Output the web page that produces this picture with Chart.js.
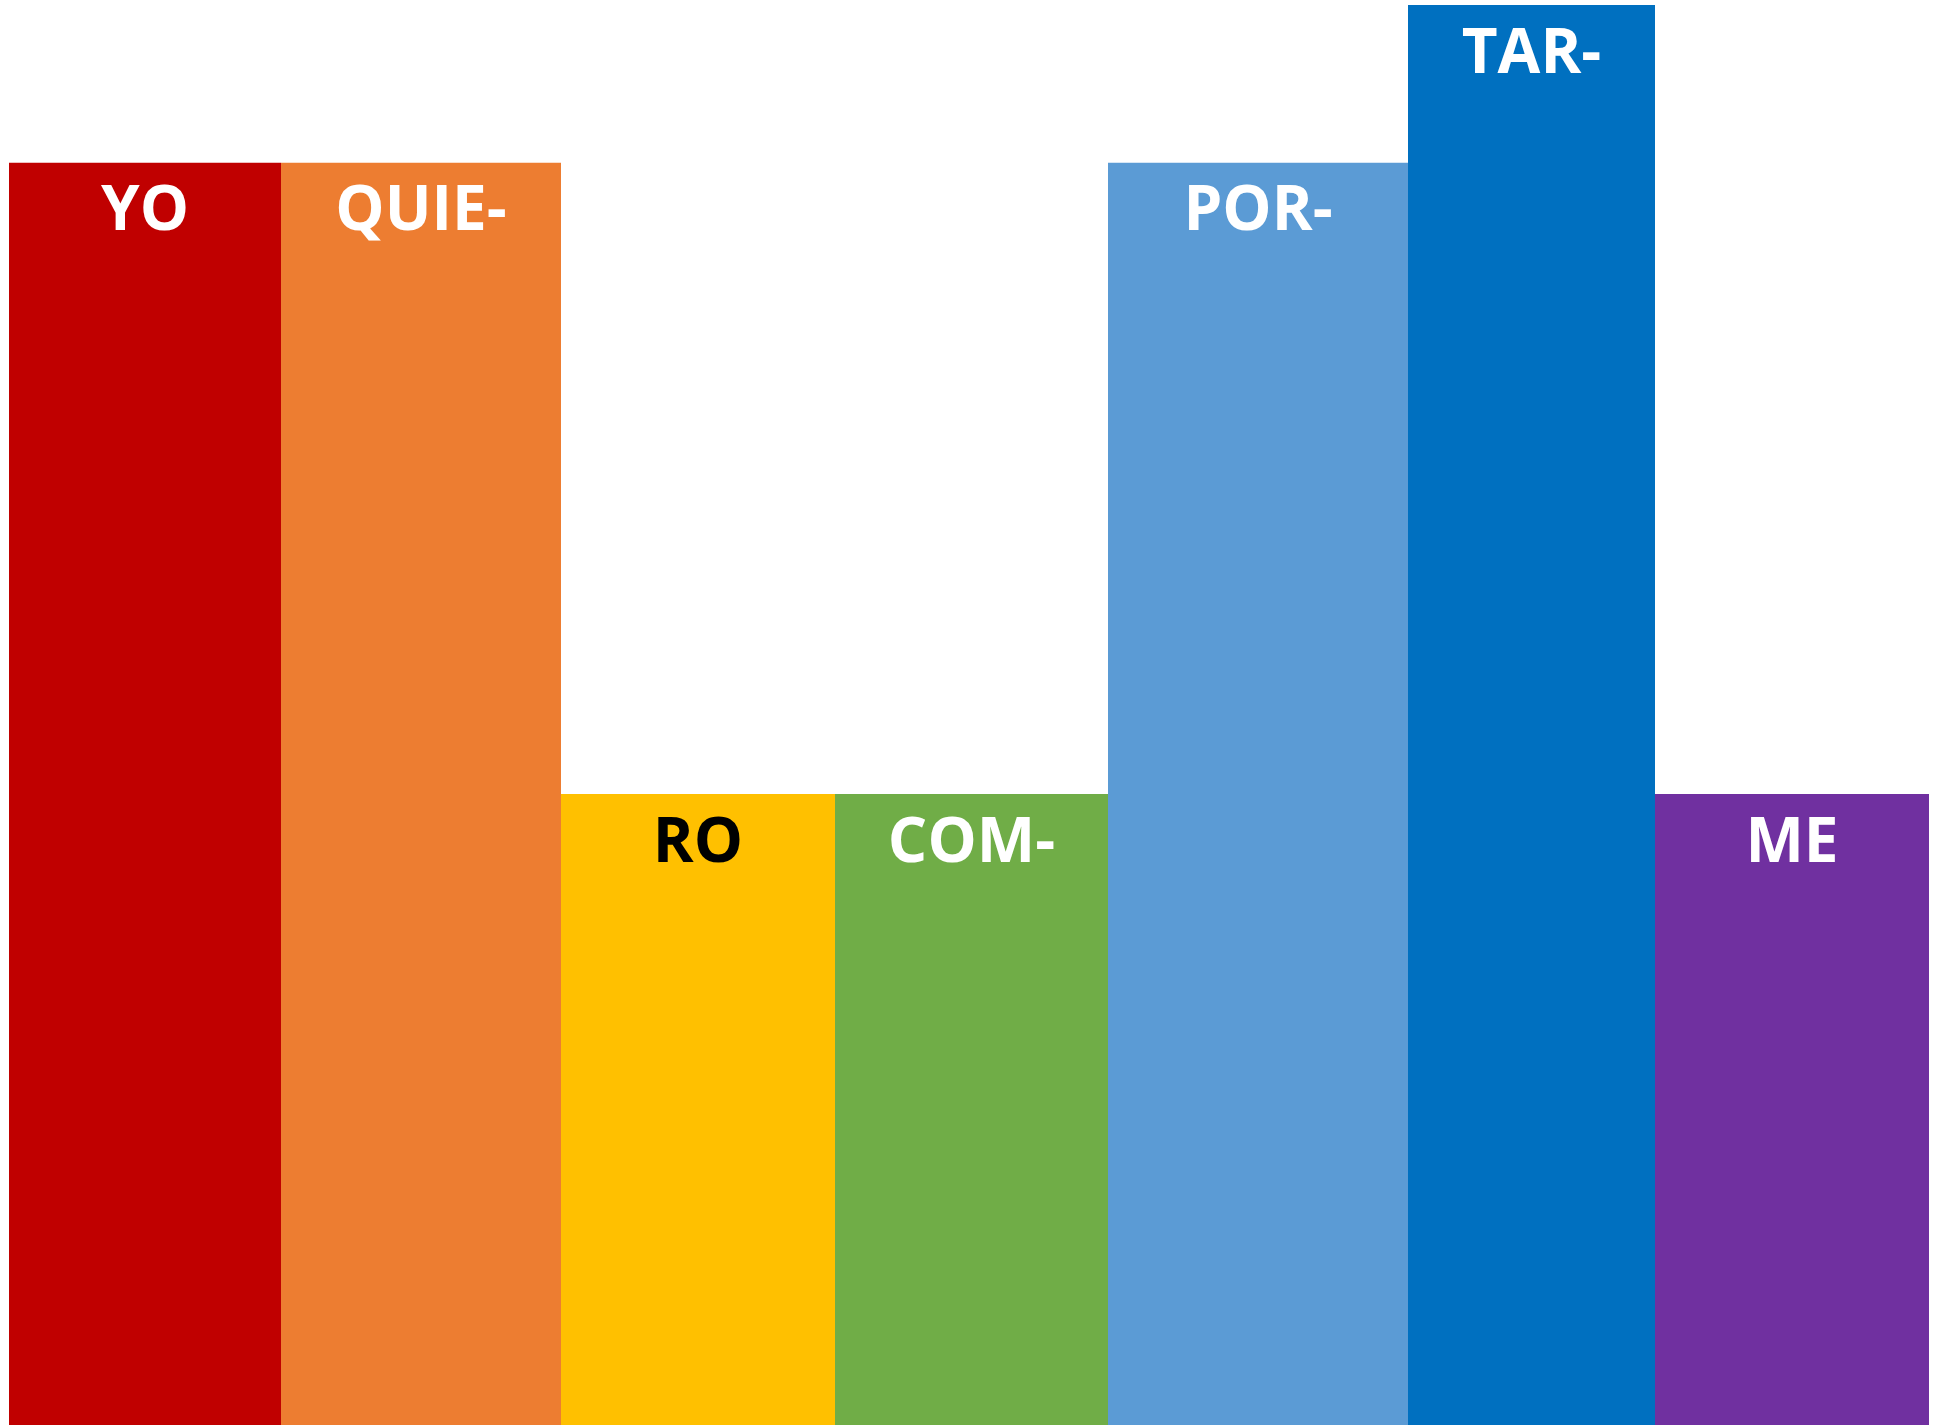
<!DOCTYPE html>
<html>
<head>
<meta charset="utf-8">
<title>YO QUIERO COMPORTARME</title>
<script src="https://cdn.jsdelivr.net/npm/chart.js@4.4.0/dist/chart.umd.min.js"></script>
<style>
    html, body { margin: 0; padding: 0; background: #ffffff; }
    #wrap { width: 1940px; height: 1425px; position: relative; }
</style>
</head>
<body>
<div id="wrap"><canvas id="syllableChart"></canvas></div>
<script>
// Syllables, in reading order
const syllables = ['YO', 'QUIE-', 'RO', 'COM-', 'POR-', 'TAR-', 'ME'];
// Bar heights (value units)
const heights = [4, 4, 2, 2, 4, 4.5, 2];
// Relative width of each bar along the x axis
const spans = [272, 280, 274, 273, 300, 247, 274];
// Fill colour and label colour per syllable
const barColors = ['#C00000', '#ED7D31', '#FFC000', '#70AD47', '#5B9BD5', '#0070C0', '#7030A0'];
const labelColors = ['#ffffff', '#ffffff', '#000000', '#ffffff', '#ffffff', '#ffffff', '#ffffff'];

const totalSpan = spans.reduce((a, b) => a + b, 0);

/**
 * Build one filled step dataset per syllable so each bar can have its own width
 */
function buildDatasets() {
    let start = 0;
    return syllables.map((s, i) => {
        const end = start + spans[i];
        const ds = {
            label: s,
            data: [{ x: start, y: heights[i] }, { x: end, y: heights[i] }],
            fill: 'origin',
            backgroundColor: barColors[i],
            borderColor: barColors[i],
            borderWidth: 0,
            pointRadius: 0,
            tension: 0
        };
        start = end;
        return ds;
    });
}

// Draw the syllable text near the top of each bar
const syllableLabels = {
    id: 'syllableLabels',
    afterDatasetsDraw(chart) {
        const ctx = chart.ctx;
        const xs = chart.scales.x;
        const ys = chart.scales.y;
        let start = 0;
        ctx.save();
        ctx.font = 'bold 62px "Open Sans"';
        ctx.textAlign = 'center';
        ctx.textBaseline = 'middle';
        syllables.forEach((s, i) => {
            const mid = start + spans[i] / 2;
            ctx.fillStyle = labelColors[i];
            ctx.fillText(s, xs.getPixelForValue(mid), ys.getPixelForValue(heights[i]) + 50);
            start += spans[i];
        });
        ctx.restore();
    }
};

document.addEventListener('DOMContentLoaded', () => {
    const ctx = document.getElementById('syllableChart').getContext('2d');
    new Chart(ctx, {
        type: 'line',
        data: { datasets: buildDatasets() },
        options: {
            responsive: true,
            maintainAspectRatio: false,
            animation: false,
            layout: { padding: { left: 9, right: 11, top: 5, bottom: 0 } },
            plugins: {
                legend: { display: false },
                tooltip: { enabled: false }
            },
            scales: {
                x: { type: 'linear', min: 0, max: totalSpan, display: false },
                y: { min: 0, max: 4.5, display: false }
            }
        },
        plugins: [syllableLabels]
    });
});
</script>
</body>
</html>
